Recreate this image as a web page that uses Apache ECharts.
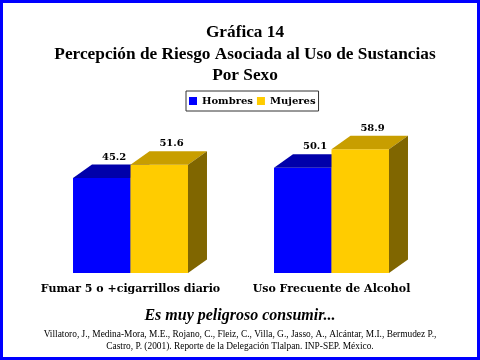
<!DOCTYPE html>
<html>
<head>
<meta charset="utf-8">
<script src="https://cdn.jsdelivr.net/npm/echarts@6/dist/echarts.min.js"></script>
<style>
html,body{margin:0;padding:0;background:#fff;}
#chart{width:480px;height:360px;}
</style>
</head>
<body>
<div id="chart"></div>
<script>
var categories = ['Fumar 5 o +cigarrillos diario', 'Uso Frecuente de Alcohol'];
var seriesNames = ['Hombres', 'Mujeres'];
var hombres = [45.2, 50.1];
var mujeres = [51.6, 58.9];

var DX = 19, DY = 13.5, BAR_FRAC = 0.286;

function render3D(side, front, top, wall) {
  return function (params, api) {
    var cat = api.value(0), val = api.value(1);
    var base = api.coord([cat, 0]);
    var tp = api.coord([cat, val]);
    var band = api.size([1, 0])[0];
    var bw = band * BAR_FRAC;
    var x0 = side === 0 ? base[0] - bw : base[0];
    var x1 = x0 + bw;
    var yb = base[1], yt = tp[1];
    return {
      type: 'group',
      children: [
        { type: 'rect', shape: { x: x0, y: yt, width: bw, height: yb - yt }, style: { fill: front } },
        { type: 'polygon', shape: { points: [[x0, yt], [x0 + DX, yt - DY], [x1 + DX, yt - DY], [x1, yt]] }, style: { fill: top } },
        { type: 'polygon', shape: { points: [[x1, yt], [x1 + DX, yt - DY], [x1 + DX, yb - DY], [x1, yb]] }, style: { fill: wall } },
        { type: 'text', style: { text: val.toFixed(1), x: (x0 + x1) / 2 + DX * 0.65, y: yt - DY - 7.5, align: 'center', verticalAlign: 'middle', fill: '#000', font: 'bold 10px "DejaVu Serif"' } }
      ]
    };
  };
}

var chart = echarts.init(document.getElementById('chart'));
chart.setOption({
  backgroundColor: '#fff',
  animation: false,
  title: {
    text: 'Gráfica 14\nPercepción de Riesgo Asociada al Uso de Sustancias\nPor Sexo',
    left: 240,
    top: 17,
    textAlign: 'center',
    textStyle: { fontFamily: 'Liberation Serif', fontWeight: 'bold', fontSize: 17.3, lineHeight: 21.5, color: '#000', align: 'center' }
  },
  legend: {
    data: seriesNames,
    left: 186,
    top: 91,
    icon: 'rect',
    itemWidth: 8,
    itemHeight: 8,
    itemGap: 4,
    padding: [5, 3],
    backgroundColor: '#fff',
    borderColor: '#333',
    borderWidth: 1,
    textStyle: { fontFamily: 'DejaVu Serif', fontWeight: 'bold', fontSize: 10, color: '#000' }
  },
  grid: { left: 30, width: 402, top: 126, bottom: 87 },
  xAxis: {
    type: 'category',
    data: categories,
    axisLine: { show: false },
    axisTick: { show: false },
    axisLabel: { margin: 11, fontFamily: 'DejaVu Serif', fontWeight: 'bold', fontSize: 11, color: '#000', interval: 0 }
  },
  yAxis: { type: 'value', min: 0, max: 70, show: false, splitLine: { show: false } },
  graphic: [
    { type: 'text', left: 'center', top: 308, style: { text: 'Es muy peligroso consumir...', font: 'italic bold 16px "Liberation Serif"', fill: '#000' } },
    { type: 'text', x: 240, y: 335, style: { text: 'Villatoro, J., Medina-Mora, M.E., Rojano, C., Fleiz, C., Villa, G., Jasso, A., Alcántar, M.I., Bermudez P.,', font: '9.4px "Liberation Serif"', fill: '#000', align: 'center', verticalAlign: 'middle' } },
    { type: 'text', x: 240, y: 347, style: { text: 'Castro, P. (2001). Reporte de la Delegación Tlalpan. INP-SEP. México.', font: '9.4px "Liberation Serif"', fill: '#000', align: 'center', verticalAlign: 'middle' } },
    { type: 'rect', shape: { x: 1.5, y: 1.5, width: 477, height: 357 }, style: { fill: 'none', stroke: '#0000FF', lineWidth: 3 }, z: 100 }
  ],
  series: [
    { name: 'Hombres', type: 'custom', itemStyle: { color: '#0000FF' }, renderItem: render3D(0, '#0000FF', '#0000AA', '#000080'), encode: { x: 0, y: 1 }, data: hombres.map(function (v, i) { return [i, v]; }) },
    { name: 'Mujeres', type: 'custom', itemStyle: { color: '#FFCC00' }, renderItem: render3D(1, '#FFCC00', '#C89E00', '#806600'), encode: { x: 0, y: 1 }, data: mujeres.map(function (v, i) { return [i, v]; }) }
  ]
});
</script>
</body>
</html>
